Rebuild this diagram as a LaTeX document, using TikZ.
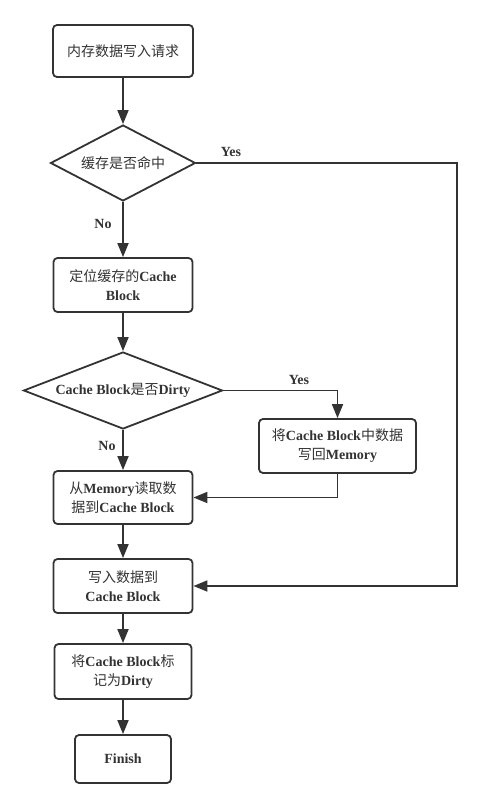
\documentclass[tikz,border=0pt]{standalone}
\usepackage{fontspec}
\setmainfont{Liberation Serif}
\newfontfamily\cjk{Noto Sans CJK SC}
\usetikzlibrary{arrows.meta,shapes.geometric}
\newcommand\zh[1]{{\cjk\mdseries #1}}
\definecolor{ink}{HTML}{333333}
\begin{document}
\begin{tikzpicture}[x=1pt,y=-1pt,
  every node/.style={text=ink,font=\fontsize{14}{19}\selectfont\bfseries},
  proc/.style={draw=ink,line width=1.8pt,rounded corners=4pt,rectangle,align=center,inner sep=2pt},
  decide/.style={draw=ink,line width=1.8pt,diamond,inner sep=0pt,aspect=2.5},
  arr/.style={draw=ink,line width=1.8pt,-{Triangle[length=14pt,width=11pt]}},
  lbl/.style={font=\fontsize{14}{16}\selectfont\bfseries}]
\useasboundingbox (0,0) rectangle (481,808);
\node[proc,minimum width=140pt,minimum height=52pt] (b1) at (123,51) {\zh{内存数据写入请求}};
\node[decide,minimum width=145pt,minimum height=76pt] (d1) at (123,163) {\zh{缓存是否命中}};
\node[proc,minimum width=139pt,minimum height=54pt] (b2) at (123,285) {\zh{定位缓存的}Cache\\Block};
\node[decide,minimum width=199pt,minimum height=77pt] (d2) at (123,390.5) {Cache Block\zh{是否}Dirty};
\node[proc,minimum width=157pt,minimum height=54pt] (b3) at (337.5,446) {\zh{将}Cache Block\zh{中数据}\\\zh{写回}Memory};
\node[proc,minimum width=139pt,minimum height=53pt] (b4) at (123,497.5) {\zh{从}Memory\zh{读取数}\\\zh{据到}Cache Block};
\node[proc,minimum width=139pt,minimum height=54pt] (b5) at (123,586) {\zh{写入数据到}\\Cache Block};
\node[proc,minimum width=137pt,minimum height=55pt] (b6) at (123,671.5) {\zh{将}Cache Block\zh{标}\\\zh{记为}Dirty};
\node[proc,minimum width=96pt,minimum height=48pt] (b7) at (123,759) {Finish};
\coordinate (r) at (457,163);
\draw[arr] (b1) -- (d1);
\draw[arr] (d1) -- (b2);
\draw[arr] (b2) -- (d2);
\draw[arr] (d2) -- (b4);
\draw[arr] (d2.east) -| (b3.north);
\draw[arr] (b3.south) |- (b4.east);
\draw[arr] (b4) -- (b5);
\draw[arr] (b5) -- (b6);
\draw[arr] (b6) -- (b7);
\draw[arr] (d1.east) -- (r) |- (b5.east);
\node[lbl] (y1) at (231,152) {Yes};
\node[lbl] (n1) at (103,224) {No};
\node[lbl] (y2) at (299,380) {Yes};
\node[lbl] (n2) at (107,446) {No};
\end{tikzpicture}
\end{document}
